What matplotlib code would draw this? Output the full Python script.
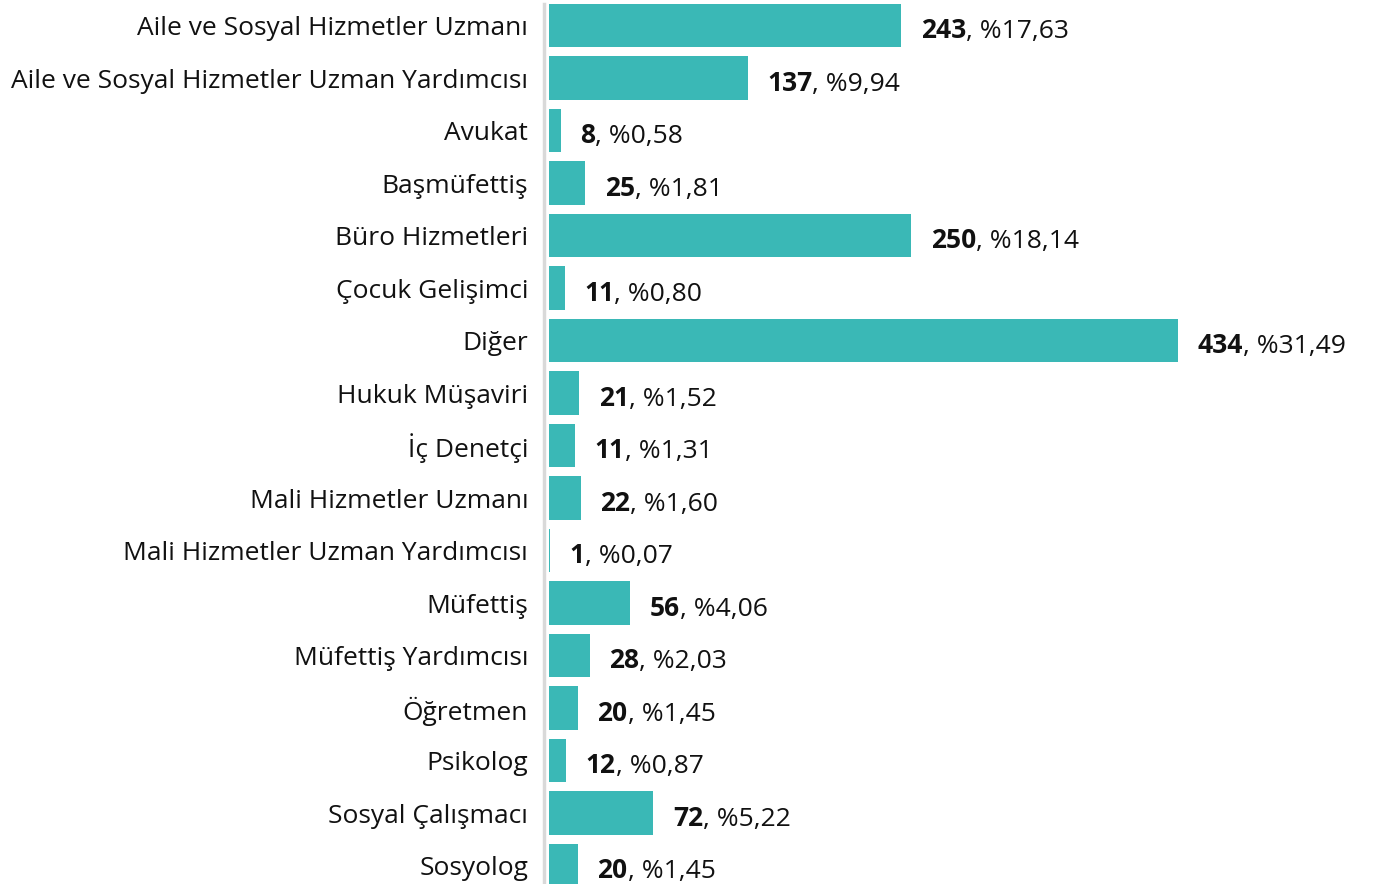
import matplotlib.pyplot as plt
from matplotlib.lines import Line2D
from matplotlib.transforms import ScaledTranslation

plt.rcParams['font.family'] = ['Open Sans', 'DejaVu Sans']

categories = ['Aile ve Sosyal Hizmetler Uzmanı', 'Aile ve Sosyal Hizmetler Uzman Yardımcısı',
              'Avukat', 'Başmüfettiş', 'Büro Hizmetleri', 'Çocuk Gelişimci', 'Diğer',
              'Hukuk Müşaviri', 'İç Denetçi', 'Mali Hizmetler Uzmanı',
              'Mali Hizmetler Uzman Yardımcısı', 'Müfettiş', 'Müfettiş Yardımcısı',
              'Öğretmen', 'Psikolog', 'Sosyal Çalışmacı', 'Sosyolog']
values = [243, 137, 8, 25, 250, 11, 434, 21, 18, 22, 1, 56, 28, 20, 12, 72, 20]
counts = ['243', '137', '8', '25', '250', '11', '434', '21', '11', '22', '1', '56', '28', '20', '12', '72', '20']
percents = ['%17,63', '%9,94', '%0,58', '%1,81', '%18,14', '%0,80', '%31,49', '%1,52', '%1,31',
            '%1,60', '%0,07', '%4,06', '%2,03', '%1,45', '%0,87', '%5,22', '%1,45']

W, H = 1378, 884
fig = plt.figure(figsize=(W / 100, H / 100), dpi=100)
ax = fig.add_axes([549 / W, 0, 1 - 549 / W, 1])

y = list(range(len(categories)))
ax.barh(y, values, height=0.82, color='#3ab8b6')
ax.set_xlim(0, 572)
ax.set_ylim(-0.486 + H / 52.5, -0.486)

ax.set_yticks(y)
ax.set_yticklabels(categories, fontsize=19, color='#111111')
shift = ScaledTranslation(0, 2 / 72, fig.dpi_scale_trans)
for lab in ax.get_yticklabels():
    lab.set_va('center_baseline')
    lab.set_transform(lab.get_transform() + shift)
ax.tick_params(axis='y', length=0, pad=15)
ax.set_xticks([])
for s in ax.spines.values():
    s.set_visible(False)

# grey separator line left of the bars
fig.add_artist(Line2D([544 / W, 544 / W], [0, 1 - 4 / H], transform=fig.transFigure,
                      color='#d9d9d9', lw=2.5))

for i, v in enumerate(values):
    t = ax.annotate(counts[i], xy=(v, i), xytext=(14, -1.5), textcoords='offset points',
                    fontsize=19, fontweight='bold', color='#111111',
                    ha='left', va='center_baseline')
    ax.annotate(', ' + percents[i], xy=(1, 0), xycoords=t, fontsize=19,
                color='#111111', ha='left', va='bottom')

fig.savefig('out.png', dpi=100)
